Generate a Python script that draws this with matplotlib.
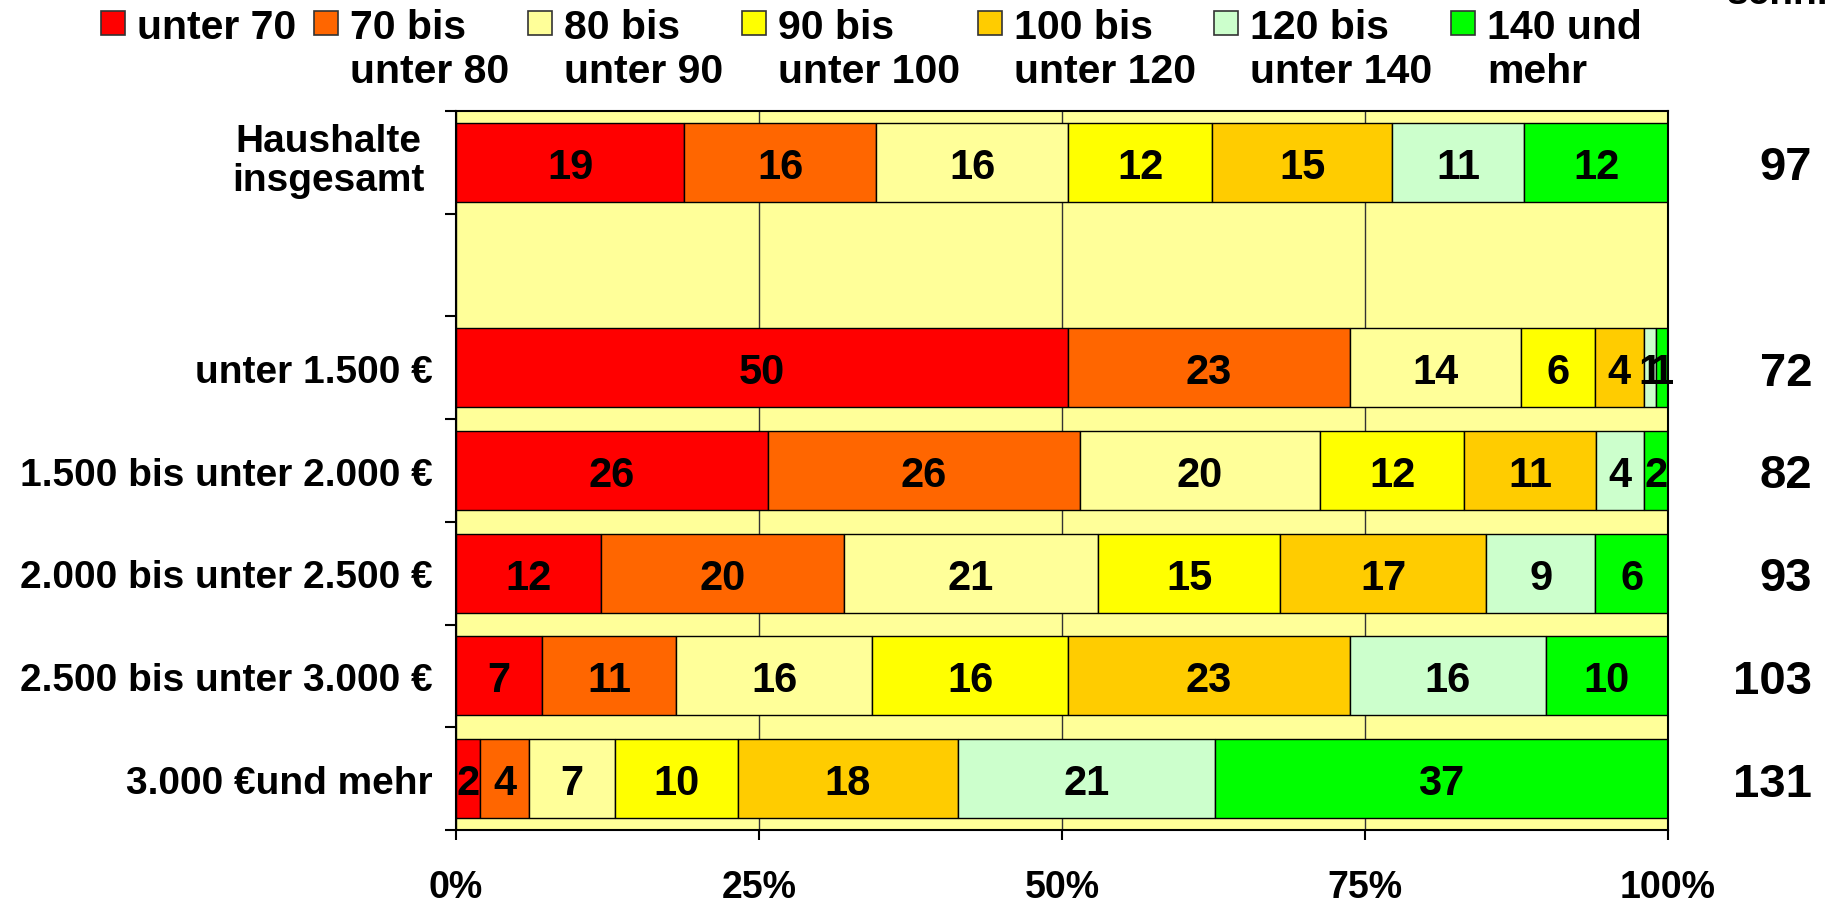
import matplotlib
matplotlib.use("Agg")
import matplotlib.pyplot as plt
import numpy as np
from matplotlib.patches import Rectangle

plt.rcParams["font.family"] = ["Liberation Sans", "DejaVu Sans"]
plt.rcParams["font.weight"] = "bold"

groups = ["Haushalte\ninsgesamt", "unter 1.500 €", "1.500 bis unter 2.000 €",
          "2.000 bis unter 2.500 €", "2.500 bis unter 3.000 €", "3.000 €und mehr"]
classes = ["unter 70", "70 bis\nunter 80", "80 bis\nunter 90", "90 bis\nunter 100",
           "100 bis\nunter 120", "120 bis\nunter 140", "140 und\nmehr"]
colors = ["#FF0000", "#FF6600", "#FFFF99", "#FFFF00", "#FFCC00", "#CCFFCC", "#00FF00"]

# Anteile in % je Einkommensgruppe
unter_70 = [19, 50, 26, 12, 7, 2]
bis_80 = [16, 23, 26, 20, 11, 4]
bis_90 = [16, 14, 20, 21, 16, 7]
bis_100 = [12, 6, 12, 15, 16, 10]
bis_120 = [15, 4, 11, 17, 23, 18]
bis_140 = [11, 1, 4, 9, 16, 21]
ab_140 = [12, 1, 2, 6, 10, 37]
durchschnitt = [97, 72, 82, 93, 103, 131]

W, H = 1830, 904
fig = plt.figure(figsize=(W / 100, H / 100), dpi=100)
ax = fig.add_axes([456 / W, 1 - 831 / H, (1668 - 456) / W, (831 - 112) / H])
ax.set_facecolor("#FFFF99")

series = np.array([unter_70, bis_80, bis_90, bis_100, bis_120, bis_140, ab_140], dtype=float)
shares = series / series.sum(axis=0) * 100

ypos = np.array([0, 2, 3, 4, 5, 6])  # slot 1 stays empty
left = np.zeros(len(groups))
for k in range(len(classes)):
    bars = ax.barh(ypos, shares[k], left=left, height=0.77, color=colors[k],
                   edgecolor="black", linewidth=1, zorder=2)
    texts = ax.bar_label(bars, labels=[str(int(v)) for v in series[k]], label_type="center",
                         fontsize=30, fontweight="bold")
    for t in texts:
        t.set_va("center_baseline")
    left += shares[k]

ax.set_xlim(0, 100)
ax.set_ylim(6.5, -0.5)
ax.xaxis.grid(True, color="#333333", linewidth=1)
ax.set_axisbelow(True)

# first label drawn separately (centred lines)
ax.set_yticks(ypos, [""] + groups[1:])
ax.set_yticks(np.arange(-0.5, 7), minor=True)
ax.tick_params(axis="y", which="major", length=0, pad=17, labelsize=28)
ax.tick_params(axis="y", which="minor", length=8, width=1.5)
ax.text(-0.026, ypos[0] - 0.02, groups[0], transform=ax.get_yaxis_transform(),
        ha="right", va="center", multialignment="center", linespacing=1.12,
        fontsize=28, fontweight="bold")

ax.set_xticks([0, 25, 50, 75, 100], ["0%", "25%", "50%", "75%", "100%"])
ax.tick_params(axis="x", length=7, width=1.5, pad=21, labelsize=27)
for s in ax.spines.values():
    s.set_linewidth(1.5)

for y, v in zip(ypos, durchschnitt):
    ax.text(1.119, y, str(v), transform=ax.get_yaxis_transform(), ha="right",
            va="center_baseline", fontsize=34, fontweight="bold", clip_on=False)

fig.text(1727 / W, 1 - 12 / H, "Durch-\nschnitt", ha="left", va="bottom",
         fontsize=28, fontweight="bold")

# legend, drawn by hand so the box sits on the first text line
legend_x = [101, 314, 528, 742, 978, 1214, 1451]  # pixel position of each box
for x, c, col in zip(legend_x, classes, colors):
    fig.add_artist(Rectangle((x / W, 1 - 36 / H), 24 / W, 24 / H, transform=fig.transFigure,
                             facecolor=col, edgecolor="#333333", linewidth=1.2))
    fig.text((x + 36) / W, 1 - 9 / H, c, ha="left", va="top", fontsize=29.5,
             fontweight="bold", linespacing=1.2)

fig.savefig("out.png", dpi=100)
